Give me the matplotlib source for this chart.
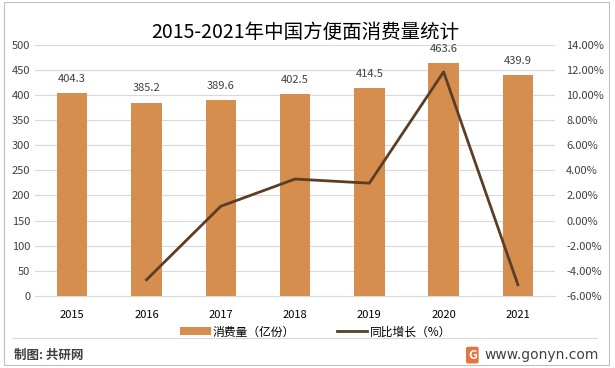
import matplotlib
matplotlib.use("Agg")
import matplotlib.pyplot as plt
from matplotlib.ticker import FuncFormatter, MultipleLocator
from matplotlib.patches import Rectangle

plt.rcParams['font.family'] = ['Noto Sans CJK SC', 'DejaVu Sans']

years = ["2015", "2016", "2017", "2018", "2019", "2020", "2021"]
consumption = [404.3, 385.2, 389.6, 402.5, 414.5, 463.6, 439.9]
growth_years = ["2016", "2017", "2018", "2019", "2020", "2021"]
growth = [-4.72, 1.14, 3.31, 2.98, 11.85, -5.11]

BAR = "#D58E4E"
LINE = "#5C3E26"
TXT = "#404040"

fig = plt.figure(figsize=(6.15, 3.68), dpi=100)
fig.patch.set_facecolor("white")
fig.patches.append(Rectangle((0.006, 0.008), 0.984, 0.986, transform=fig.transFigure,
                             fill=False, edgecolor="#BFBFBF", linewidth=0.8))

ax = fig.add_axes([0.057, 0.196, 0.8455, 0.682])
x = list(range(len(years)))
bars = ax.bar(x, consumption, width=0.41, color=BAR, label="消费量（亿份）", zorder=2)
for xi, v in zip(x, consumption):
    ax.text(xi, v + 18, f"{v:.1f}", ha="center", va="bottom", fontsize=8, color=TXT)
ax.set_ylim(0, 500)
ax.set_xlim(-0.5, 6.5)
ax.yaxis.set_major_locator(MultipleLocator(50))
ax.set_xticks(x)
ax.set_xticklabels(years)
ax.grid(axis="y", color="#D9D9D9", linewidth=0.8, zorder=0)
for s in ax.spines.values():
    s.set_visible(False)
ax.spines["bottom"].set_visible(True)
ax.spines["bottom"].set_color("#D9D9D9")
ax.tick_params(axis="both", length=0, labelsize=8, colors=TXT)
ax.tick_params(axis="x", pad=10, labelcolor="#000000")

ax2 = ax.twinx()
gx = [years.index(y) for y in growth_years]
line, = ax2.plot(gx, growth, color=LINE, linewidth=2, label="同比增长（%）", zorder=3)
ax2.set_ylim(-6, 14)
ax2.yaxis.set_major_locator(MultipleLocator(2))
ax2.yaxis.set_major_formatter(FuncFormatter(lambda v, p: f"{v:.2f}%"))
for s in ax2.spines.values():
    s.set_visible(False)
ax2.tick_params(axis="y", length=0, labelsize=8, colors=TXT, pad=8)

fig.legend(handles=[bars, line], loc="center", bbox_to_anchor=(0.513, 0.098), ncol=2,
           frameon=False, fontsize=8.5, handlelength=2.6, columnspacing=3.5, handletextpad=0.2)

fig.text(0.497, 0.913, "2015-2021年中国方便面消费量统计", ha="center", va="center", fontsize=14, color="#000000")

fig.add_artist(plt.Line2D([0.021, 0.971], [0.082, 0.082], transform=fig.transFigure,
                          color="#D9D9D9", linewidth=0.8))
fig.text(0.023, 0.035, "制图: 共研网", ha="left", va="center", fontsize=9, color="#404040",
         fontweight="bold")
fig.text(0.973, 0.035, "www.gonyn.com", ha="right", va="center", fontsize=10, color="#404040",
         family=["DejaVu Sans"])
fig.text(0.768, 0.035, "G", ha="center", va="center", fontsize=9, color="white", fontweight="bold",
         bbox=dict(boxstyle="round,pad=0.15", facecolor="#E8743B", edgecolor="none"))

fig.savefig("out.png", dpi=100)
